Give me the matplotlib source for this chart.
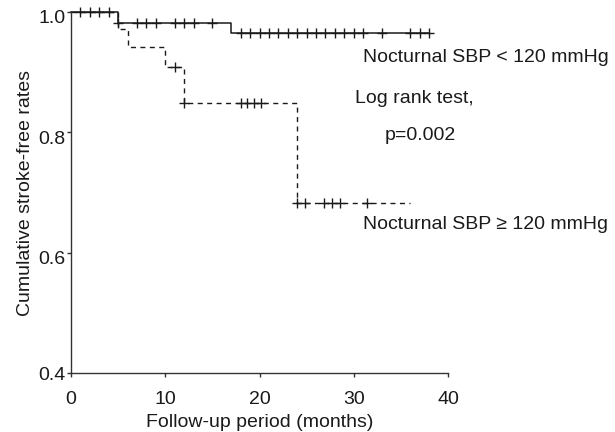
import numpy as np
import matplotlib.pyplot as plt
import matplotlib.transforms as mtransforms

plt.rcParams['font.family'] = ['Liberation Sans', 'DejaVu Sans']

# Kaplan-Meier: nocturnal SBP < 120 mmHg
t_low = [0, 5, 17, 38]
s_low = [1.0, 0.982, 0.965, 0.965]
cens_low = [1, 2, 3, 4, 5, 7, 8, 9, 11, 12, 13, 15,
            18, 19, 20, 21, 22, 23, 24, 25, 26, 27, 28, 29, 30, 31, 33, 36, 37, 38]

# Kaplan-Meier: nocturnal SBP >= 120 mmHg
t_high = [0, 5, 6, 10, 12, 24, 36]
s_high = [1.0, 0.971, 0.942, 0.908, 0.848, 0.683, 0.683]
cens_high = [11, 12, 18, 18.7, 19.4, 20.2, 24, 24.8, 26.8, 27.7, 28.5, 31.4]

x_ticks = [0, 10, 20, 30, 40]
y_ticks = [0.4, 0.6, 0.8, 1.0]


def surv_at(times, surv, pts):
    idx = np.searchsorted(times, pts, side='right') - 1
    return np.array(surv)[idx]


col = '#1a1a1a'
fig = plt.figure(figsize=(6.15, 4.32), dpi=100)
ax = fig.add_axes([71 / 615, 59 / 432, 377 / 615, 361 / 432])

ax.step(t_low, s_low, where='post', color=col, lw=1.1, clip_on=False)
ax.plot(cens_low, surv_at(t_low, s_low, cens_low), '+', color=col,
        ms=7, mew=1.0, clip_on=False)

ax.step(t_high, s_high, where='post', color=col, lw=1.0,
        dashes=(3.6, 3.2), clip_on=False)
ax.plot(cens_high, surv_at(t_high, s_high, cens_high), '+', color=col,
        ms=7, mew=1.0, clip_on=False)

ax.text(31, 0.925, 'Nocturnal SBP < 120 mmHg', fontsize=14, color=col, va='center')
ax.text(30.1, 0.857, 'Log rank test,', fontsize=14, color=col, va='center')
ax.text(33.3, 0.795, 'p=0.002', fontsize=14, color=col, va='center')
ax.text(31, 0.646, 'Nocturnal SBP \u2265 120 mmHg', fontsize=14, color=col, va='center')

ax.set_xlim(0, 40)
ax.set_ylim(0.4, 1.0)
ax.set_xticks(x_ticks)
ax.set_yticks(y_ticks)
ax.set_yticklabels(['0.4', '0.6', '0.8', '1.0'])
ax.spines['top'].set_visible(False)
ax.spines['right'].set_visible(False)
for s in ['left', 'bottom']:
    ax.spines[s].set_color('#333333')
    ax.spines[s].set_linewidth(1.0)
ax.tick_params(axis='both', colors='#333333', labelcolor=col, labelsize=14,
               direction='out', length=3, width=1.0)
ax.tick_params(axis='x', pad=10)
ax.tick_params(axis='y', pad=1)

# labels in the original sit a little below their ticks
shift = mtransforms.ScaledTranslation(0, -5 / 100, fig.dpi_scale_trans)
for lab in ax.get_yticklabels()[1:]:
    lab.set_transform(lab.get_transform() + shift)

ax.set_xlabel('Follow-up period (months)', fontsize=14, color=col, labelpad=4)
ax.set_ylabel('Cumulative stroke-free rates', fontsize=14, color=col, labelpad=3)

fig.savefig('out.png', dpi=100)
